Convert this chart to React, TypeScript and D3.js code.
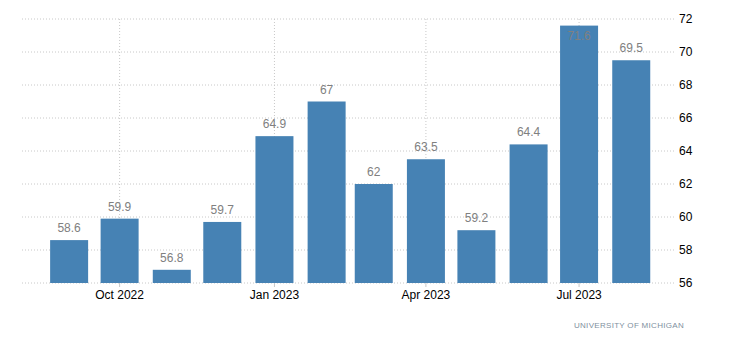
import React from "react";
import * as d3 from "d3";

const months = ["2022-09-01","2022-10-01","2022-11-01","2022-12-01","2023-01-01","2023-02-01","2023-03-01","2023-04-01","2023-05-01","2023-06-01","2023-07-01","2023-08-01"];
const values = [58.6, 59.9, 56.8, 59.7, 64.9, 67, 62, 63.5, 59.2, 64.4, 71.6, 69.5];
const yTicks = [56, 58, 60, 62, 64, 66, 68, 70, 72];
const xTickDates = ["2022-10-01", "2023-01-01", "2023-04-01", "2023-07-01"];
const xTickLabels = ["Oct 2022", "Jan 2023", "Apr 2023", "Jul 2023"];
const xDomain = ["2022-08-04", "2023-08-27"];
const source = "UNIVERSITY OF MICHIGAN";

const W = 730, H = 340;
const L = 22, R = 675, T = 19, B = 283;
const FONT = "'Liberation Sans', Arial, sans-serif";

export default function App() {
  const x = d3.scaleUtc().domain(xDomain.map(d => new Date(d + "T00:00:00Z"))).range([L, R]);
  const y = d3.scaleLinear().domain([56, 72]).range([B, T]);
  const bw = 38;
  return (
    <svg width={W} height={H} style={{ position: "absolute", left: 0, top: 0, background: "#fff" }}>
      {yTicks.map(t => (
        <g key={t}>
          <line x1={L} x2={R} y1={y(t)} y2={y(t)} stroke="#c8c8c8" strokeDasharray="1,2" />
          <text x={679} y={y(t)} dy="0.35em" fontSize={12} fontFamily={FONT} fill="#000">{t}</text>
        </g>
      ))}
      {xTickDates.map((d, i) => {
        const xx = x(new Date(d + "T00:00:00Z"));
        return (
          <g key={d}>
            <line x1={xx} x2={xx} y1={T} y2={B} stroke="#c8c8c8" strokeDasharray="1,2" />
            <line x1={xx} x2={xx} y1={B} y2={B + 4} stroke="#c8c8c8" />
            <text x={xx} y={B + 16} textAnchor="middle" fontSize={12} fontFamily={FONT} fill="#000">{xTickLabels[i]}</text>
          </g>
        );
      })}
      {months.map((m, i) => {
        const cx = x(new Date(m + "T00:00:00Z"));
        const top = y(values[i]);
        return (
          <rect key={m} x={cx - bw / 2} y={top} width={bw} height={B - top} fill="#4682b4" />
        );
      })}
      {months.map((m, i) => {
        const cx = x(new Date(m + "T00:00:00Z"));
        const top = y(values[i]);
        const ly = Math.max(top - 8, 40);
        return (
          <text key={m} x={cx} y={ly} textAnchor="middle" fontSize={12} fontFamily={FONT} fill="#808080">{values[i]}</text>
        );
      })}
      <text x={684} y={328} textAnchor="end" fontSize={8} fontFamily={FONT} fill="#8090a0" letterSpacing={0.3}>{source}</text>
    </svg>
  );
}
